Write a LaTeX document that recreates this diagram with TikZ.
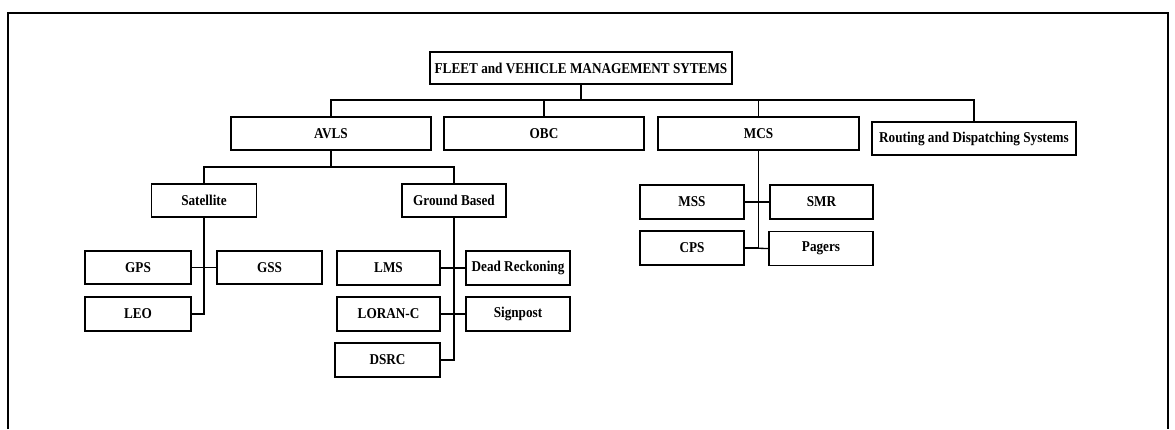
\documentclass[tikz,border=0pt]{standalone}
\usepackage{fontspec}
\usepackage{graphicx}
\setmainfont{Liberation Serif}
\newcommand{\lbl}[1]{\scalebox{0.88}[1]{#1}}
\tikzset{
  box/.style={draw=black, line width=1.3pt, fill=white, inner sep=0pt,
    minimum height=33pt, minimum width=104pt,
    font=\fontsize{15}{15}\selectfont\bfseries},
  link/.style={draw=black, line width=1.3pt},
  frame/.style={draw=black, line width=2pt}
}
\begin{document}
\begin{tikzpicture}[x=1pt, y=-1pt]
\useasboundingbox (0,0) rectangle (1175,429);
% outer frame (open at the bottom)
\draw[frame] (8,429) -- (8,13) -- (1168,13) -- (1168,429);

% top level
\node[box, minimum width=302pt, minimum height=32pt] (title) at (581,68) {\lbl{FLEET and VEHICLE MANAGEMENT SYTEMS}};

% second level
\node[box, minimum width=200pt] (avls) at (331,133.5) {\lbl{AVLS}};
\node[box, minimum width=200pt] (obc) at (544,133.5) {\lbl{OBC}};
\node[box, minimum width=201pt] (mcs) at (758.5,133.5) {\lbl{MCS}};
\node[box, minimum width=204pt] (route) at (974,138.5) {\lbl{Routing and Dispatching Systems}};

% AVLS branches
\node[box, minimum width=105pt] (sat) at (204,200.5) {\lbl{Satellite}};
\node[box] (gb) at (454,200.5) {\lbl{Ground Based}};

% satellite systems
\node[box, minimum width=106pt] (gps) at (138,267.5) {\lbl{GPS}};
\node[box, minimum width=105pt] (gss) at (269.5,267.5) {\lbl{GSS}};
\node[box, minimum width=106pt, minimum height=34pt] (leo) at (138,314) {\lbl{LEO}};

% ground based systems
\node[box, minimum width=103pt, minimum height=34pt] (lms) at (388.5,268) {\lbl{LMS}};
\node[box, minimum height=34pt] (dr) at (518,268) {\lbl{Dead Reckoning}};
\node[box, minimum width=103pt, minimum height=34pt] (loran) at (388.5,314) {\lbl{LORAN-C}};
\node[box, minimum height=34pt] (sign) at (518,314) {\lbl{Signpost}};
\node[box, minimum width=105pt, minimum height=34pt] (dsrc) at (387.5,360) {\lbl{DSRC}};

% MCS systems
\node[box, minimum height=34pt] (mss) at (692,202) {\lbl{MSS}};
\node[box, minimum width=103pt, minimum height=34pt] (smr) at (821.5,202) {\lbl{SMR}};
\node[box, minimum height=34pt] (cps) at (692,248) {\lbl{CPS}};
\node[box, minimum height=34pt] (pagers) at (821,248.5) {\lbl{Pagers}};

% bus under the title
\coordinate (b1) at (581,100);
\draw[link] (title.south) -- (b1);
\draw[link] (avls.north) |- (b1) -| (route.north);
\draw[link] (obc.north) -- (obc.north |- b1);
\draw[link] (mcs.north) -- (mcs.north |- b1);

% bus under AVLS
\coordinate (b2) at (331,167);
\draw[link] (avls.south) -- (b2);
\draw[link] (sat.north) |- (b2) -| (gb.north);

% satellite spine
\draw[link] (sat.south) |- (leo.east);
\draw[link] (gps.east) -- (gss.west);

% ground based spine
\draw[link] (gb.south) |- (dsrc.east);
\draw[link] (lms.east) -- (dr.west);
\draw[link] (loran.east) -- (sign.west);

% MCS spine
\draw[link] (mcs.south) |- (cps.east);
\draw[link] (mss.east) -- (smr.west);
\draw[link] (cps.east) -- (pagers.west);
\end{tikzpicture}
\end{document}
